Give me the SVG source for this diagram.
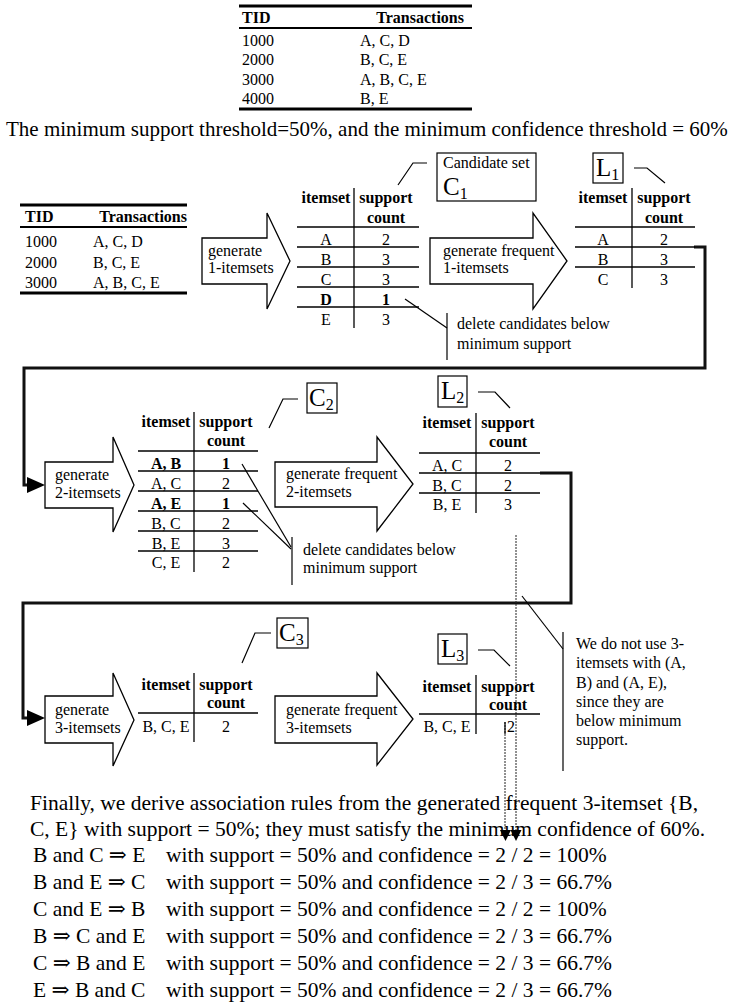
<svg xmlns="http://www.w3.org/2000/svg" width="741" height="1005" viewBox="0 0 741 1005">
  <style>
    text { font-family: "Liberation Serif", "Times New Roman", "DejaVu Serif", serif; font-size: 16px; fill: #000; }
    .b { font-weight: bold; }
    .m { text-anchor: middle; }
    .e { text-anchor: end; }
    .big { font-size: 25px; }
    .lg { font-size: 21.5px; }
    .top { font-size: 21px; }
    .rule { stroke: #000; stroke-width: 1.3; fill: none; }
    .hrule { stroke: #000; stroke-width: 3; fill: none; }
    .mrule { stroke: #000; stroke-width: 2.2; fill: none; }
    .blk { fill: #fff; stroke: #000; stroke-width: 1.3; }
    .box { fill: #fff; stroke: #000; stroke-width: 1.2; }
    .lead { fill: none; stroke: #000; stroke-width: 1.2; }
    .conn { fill: none; stroke: #111; stroke-width: 3; }
    .dot { fill: none; stroke: #222; stroke-width: 1; stroke-dasharray: 2 1; }
    .head { fill: #000; }
  </style>

  <!-- transaction database -->
  <g id="db-main">
    <line class="hrule" x1="239" y1="6" x2="472" y2="6"/>
    <text class="b" x="242" y="23">TID</text>
    <text class="b e" x="464" y="23">Transactions</text>
    <line class="mrule" x1="239" y1="28" x2="472" y2="28"/>
    <text x="242" y="46">1000</text><text x="360" y="46">A, C, D</text>
    <text x="242" y="65">2000</text><text x="360" y="65">B, C, E</text>
    <text x="242" y="85">3000</text><text x="360" y="85">A, B, C, E</text>
    <text x="242" y="104">4000</text><text x="360" y="104">B, E</text>
    <line class="hrule" x1="239" y1="109" x2="472" y2="109"/>
  </g>

  <g id="thresholds">
    <text class="top" x="6" y="136">The minimum support threshold=50%, and the minimum confidence threshold = 60%</text>
  </g>

  <!-- connectors: loop-back lines, leaders and pointers -->
  <g id="connectors">
    <path class="conn" d="M694 247 H705 V368 H24 V485 H29"/>
    <polygon class="head" points="27,477 45,485 27,493"/>
    <path class="conn" d="M540 473 H571 V603 H23 V718 H29"/>
    <polygon class="head" points="27,710 45,718 27,726"/>

    <!-- label leaders -->
    <polyline class="lead" points="398,185 413,163 427,163"/>
    <polyline class="lead" points="634,168 647,168 665,183"/>
    <polyline class="lead" points="269,428 283,399 298,399"/>
    <polyline class="lead" points="478,392 495,392 510,408"/>
    <polyline class="lead" points="242,663 255,633 271,633"/>
    <polyline class="lead" points="478,650 494,650 510,666"/>

    <!-- delete-candidate callouts -->
    <line class="lead" x1="405" y1="299" x2="447" y2="328"/>
    <line class="lead" x1="447" y1="313" x2="447" y2="360"/>
    <line class="lead" x1="242" y1="464" x2="291" y2="547"/>
    <line class="lead" x1="243" y1="503" x2="291" y2="549"/>
    <line class="lead" x1="292" y1="537" x2="292" y2="585"/>
    <line class="lead" x1="522" y1="596" x2="563" y2="649"/>
    <line class="lead" x1="563" y1="632" x2="563" y2="771"/>

    <!-- dotted pointers down to the rules -->
    <line class="dot" x1="516" y1="535" x2="516" y2="832"/>
    <line class="dot" x1="505" y1="722" x2="505" y2="832"/>
    <line class="lead" x1="505" y1="722" x2="505" y2="734"/>
    <polygon class="head" points="500,830 511,830 505.5,841"/>
    <polygon class="head" points="510.5,830 521.5,830 516,841"/>
  </g>

  <!-- row 1 -->
  <g id="db-scan">
    <line class="hrule" x1="20" y1="205" x2="187" y2="205"/>
    <text class="b" x="25" y="222">TID</text>
    <text class="b e" x="187" y="222">Transactions</text>
    <line class="mrule" x1="20" y1="227" x2="187" y2="227"/>
    <text x="25" y="247">1000</text><text x="93" y="247">A, C, D</text>
    <text x="25" y="268">2000</text><text x="93" y="268">B, C, E</text>
    <text x="25" y="288">3000</text><text x="93" y="288">A, B, C, E</text>
    <line class="hrule" x1="20" y1="293" x2="187" y2="293"/>
  </g>

  <g id="step-gen1">
    <path class="blk" d="M202 238 H267 V213 L290 261 L267 309 V284 H202 Z"/>
    <text x="208" y="256">generate</text>
    <text x="208" y="273">1-itemsets</text>
  </g>

  <g id="table-c1">
    <text class="b m" x="326" y="203">itemset</text>
    <text class="b m" x="386" y="203">support</text>
    <text class="b m" x="386" y="223">count</text>
    <line class="rule" x1="354" y1="188" x2="354" y2="328"/>
    <line class="rule" x1="297" y1="227" x2="419" y2="227"/>
    <line class="rule" x1="297" y1="247" x2="419" y2="247"/>
    <line class="rule" x1="297" y1="267" x2="419" y2="267"/>
    <line class="rule" x1="297" y1="287" x2="419" y2="287"/>
    <line class="rule" x1="297" y1="307" x2="419" y2="307"/>
    <text class="m" x="326" y="245">A</text><text class="m" x="386" y="245">2</text>
    <text class="m" x="326" y="265">B</text><text class="m" x="386" y="265">3</text>
    <text class="m" x="326" y="285">C</text><text class="m" x="386" y="285">3</text>
    <text class="m b" x="326" y="305">D</text><text class="m b" x="386" y="305">1</text>
    <text class="m" x="326" y="325">E</text><text class="m" x="386" y="325">3</text>
  </g>

  <g id="label-c1">
    <rect class="box" x="437" y="153" width="99" height="48"/>
    <text x="443" y="168">Candidate set</text>
    <text class="big" x="443" y="195">C<tspan font-size="16" dy="4">1</tspan></text>
  </g>

  <g id="step-freq1">
    <path class="blk" d="M430 238 H533 V213 L567 261 L533 309 V284 H430 Z"/>
    <text x="443" y="256">generate frequent</text>
    <text x="443" y="273">1-itemsets</text>
  </g>

  <g id="label-l1">
    <rect class="box" x="593" y="153" width="30" height="30"/>
    <text class="big" x="596" y="176">L<tspan font-size="16" dy="4">1</tspan></text>
  </g>

  <g id="table-l1">
    <text class="b m" x="603" y="203">itemset</text>
    <text class="b m" x="664" y="203">support</text>
    <text class="b m" x="664" y="223">count</text>
    <line class="rule" x1="632" y1="188" x2="632" y2="288"/>
    <line class="rule" x1="575" y1="227" x2="695" y2="227"/>
    <line class="rule" x1="575" y1="247" x2="695" y2="247"/>
    <line class="rule" x1="575" y1="267" x2="695" y2="267"/>
    <text class="m" x="603" y="245">A</text><text class="m" x="664" y="245">2</text>
    <text class="m" x="603" y="265">B</text><text class="m" x="664" y="265">3</text>
    <text class="m" x="603" y="285">C</text><text class="m" x="664" y="285">3</text>
  </g>

  <g id="note-delete1">
    <text x="457" y="329">delete candidates below</text>
    <text x="457" y="349">minimum support</text>
  </g>

  <!-- row 2 -->
  <g id="step-gen2">
    <path class="blk" d="M45 462 H113 V437 L134 485 L113 532 V508 H45 Z"/>
    <text x="55" y="480">generate</text>
    <text x="55" y="498">2-itemsets</text>
  </g>

  <g id="table-c2">
    <text class="b m" x="166" y="427">itemset</text>
    <text class="b m" x="226" y="427">support</text>
    <text class="b m" x="226" y="446">count</text>
    <line class="rule" x1="194" y1="412" x2="194" y2="572"/>
    <line class="rule" x1="138" y1="451" x2="258" y2="451"/>
    <line class="rule" x1="138" y1="471" x2="258" y2="471"/>
    <line class="rule" x1="138" y1="491" x2="258" y2="491"/>
    <line class="rule" x1="138" y1="511" x2="258" y2="511"/>
    <line class="rule" x1="138" y1="531" x2="258" y2="531"/>
    <line class="rule" x1="138" y1="551" x2="258" y2="551"/>
    <text class="m b" x="166" y="469">A, B</text><text class="m b" x="226" y="469">1</text>
    <text class="m" x="166" y="489">A, C</text><text class="m" x="226" y="489">2</text>
    <text class="m b" x="166" y="509">A, E</text><text class="m b" x="226" y="509">1</text>
    <text class="m" x="166" y="529">B, C</text><text class="m" x="226" y="529">2</text>
    <text class="m" x="166" y="549">B, E</text><text class="m" x="226" y="549">3</text>
    <text class="m" x="166" y="568">C, E</text><text class="m" x="226" y="568">2</text>
  </g>

  <g id="label-c2">
    <rect class="box" x="307" y="383" width="30" height="30"/>
    <text class="big" x="309" y="406">C<tspan font-size="16" dy="4">2</tspan></text>
  </g>

  <g id="step-freq2">
    <path class="blk" d="M275 462 H377 V437 L413 484 L377 531 V507 H275 Z"/>
    <text x="286" y="479">generate frequent</text>
    <text x="286" y="497">2-itemsets</text>
  </g>

  <g id="label-l2">
    <rect class="box" x="438" y="376" width="29" height="31"/>
    <text class="big" x="441" y="399">L<tspan font-size="16" dy="4">2</tspan></text>
  </g>

  <g id="table-l2">
    <text class="b m" x="447" y="428">itemset</text>
    <text class="b m" x="508" y="428">support</text>
    <text class="b m" x="508" y="447">count</text>
    <line class="rule" x1="476" y1="413" x2="476" y2="513"/>
    <line class="rule" x1="419" y1="453" x2="540" y2="453"/>
    <line class="rule" x1="419" y1="473" x2="540" y2="473"/>
    <line class="rule" x1="419" y1="493" x2="540" y2="493"/>
    <text class="m" x="447" y="471">A, C</text><text class="m" x="508" y="471">2</text>
    <text class="m" x="447" y="491">B, C</text><text class="m" x="508" y="491">2</text>
    <text class="m" x="447" y="510">B, E</text><text class="m" x="508" y="510">3</text>
  </g>

  <g id="note-delete2">
    <text x="303" y="555">delete candidates below</text>
    <text x="303" y="573">minimum support</text>
  </g>

  <!-- row 3 -->
  <g id="step-gen3">
    <path class="blk" d="M45 696 H113 V673 L134 720 L113 766 V743 H45 Z"/>
    <text x="55" y="715">generate</text>
    <text x="55" y="733">3-itemsets</text>
  </g>

  <g id="table-c3">
    <text class="b m" x="166" y="690">itemset</text>
    <text class="b m" x="226" y="690">support</text>
    <text class="b m" x="226" y="708">count</text>
    <line class="rule" x1="194" y1="673" x2="194" y2="742"/>
    <line class="rule" x1="138" y1="713" x2="258" y2="713"/>
    <text class="m" x="166" y="732">B, C, E</text><text class="m" x="226" y="732">2</text>
  </g>

  <g id="label-c3">
    <rect class="box" x="277" y="618" width="31" height="30"/>
    <text class="big" x="279" y="641">C<tspan font-size="16" dy="4">3</tspan></text>
  </g>

  <g id="step-freq3">
    <path class="blk" d="M275 696 H377 V673 L413 719 L377 765 V743 H275 Z"/>
    <text x="286" y="715">generate frequent</text>
    <text x="286" y="733">3-itemsets</text>
  </g>

  <g id="label-l3">
    <rect class="box" x="438" y="634" width="29" height="30"/>
    <text class="big" x="441" y="657">L<tspan font-size="16" dy="4">3</tspan></text>
  </g>

  <g id="table-l3">
    <text class="b m" x="447" y="692">itemset</text>
    <text class="b m" x="508" y="692">support</text>
    <text class="b m" x="508" y="710">count</text>
    <line class="rule" x1="476" y1="675" x2="476" y2="734"/>
    <line class="rule" x1="419" y1="714" x2="540" y2="714"/>
    <text class="m" x="447" y="732">B, C, E</text><text class="m" x="511" y="732">2</text>
  </g>

  <g id="note-skip">
    <text x="576" y="649">We do not use 3-</text>
    <text x="576" y="668">itemsets with (A,</text>
    <text x="576" y="688">B) and (A, E),</text>
    <text x="576" y="707">since they are</text>
    <text x="576" y="726">below minimum</text>
    <text x="576" y="745">support.</text>
  </g>

  <!-- derived association rules -->
  <g id="rules">
    <text class="lg" x="30" y="810">Finally, we derive association rules from the generated frequent 3-itemset {B,</text>
    <text class="lg" x="30" y="836">C, E} with support = 50%; they must satisfy the minimum confidence of 60%.</text>
    <text class="lg" x="33" y="862">B and C ⇒ E</text><text class="lg" x="166" y="862">with support = 50% and confidence = 2 / 2 = 100%</text>
    <text class="lg" x="33" y="889">B and E ⇒ C</text><text class="lg" x="166" y="889">with support = 50% and confidence = 2 / 3 = 66.7%</text>
    <text class="lg" x="33" y="916">C and E ⇒ B</text><text class="lg" x="166" y="916">with support = 50% and confidence = 2 / 2 = 100%</text>
    <text class="lg" x="33" y="943">B ⇒ C and E</text><text class="lg" x="166" y="943">with support = 50% and confidence = 2 / 3 = 66.7%</text>
    <text class="lg" x="33" y="970">C ⇒ B and E</text><text class="lg" x="166" y="970">with support = 50% and confidence = 2 / 3 = 66.7%</text>
    <text class="lg" x="33" y="997">E ⇒ B and C</text><text class="lg" x="166" y="997">with support = 50% and confidence = 2 / 3 = 66.7%</text>
  </g>
</svg>
